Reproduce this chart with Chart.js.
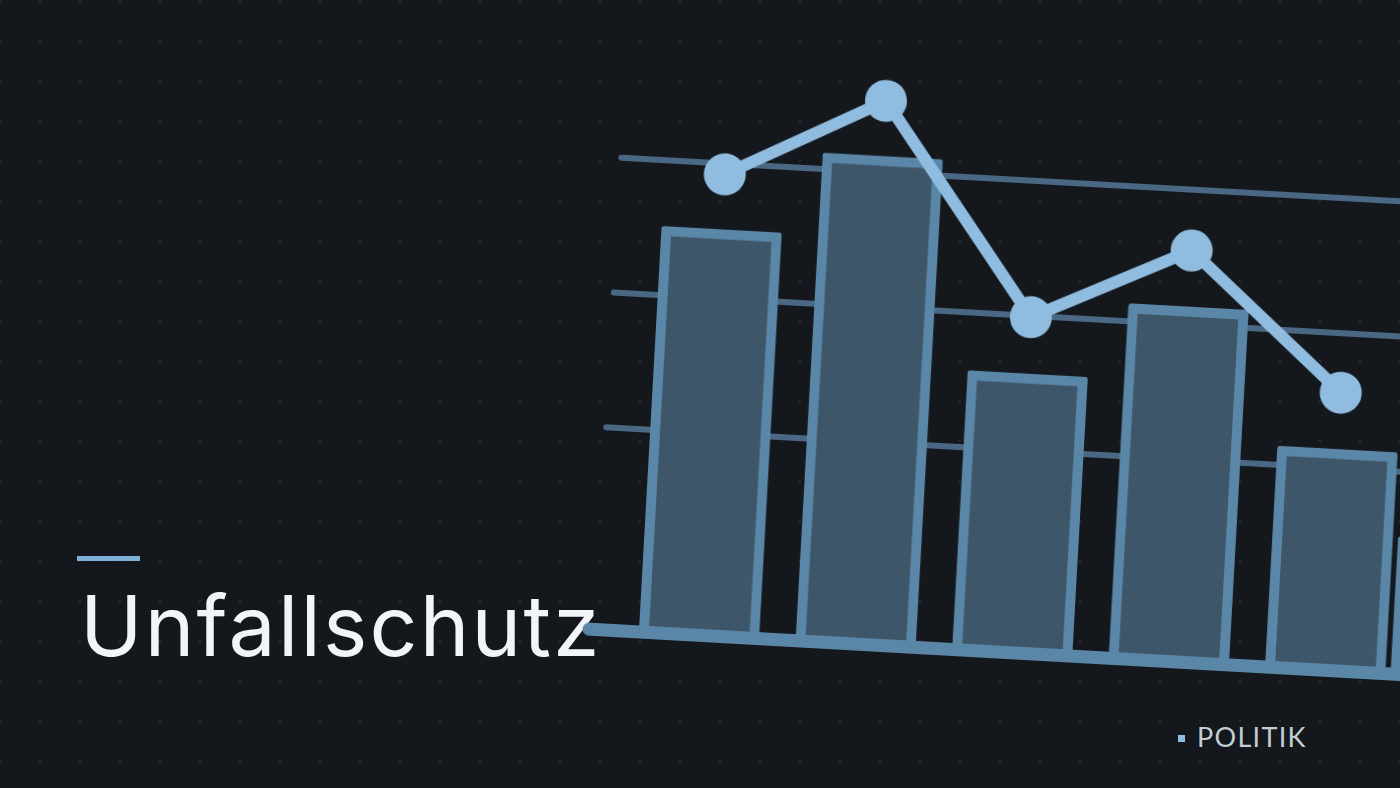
<!DOCTYPE html>
<html>
<head>
<meta charset="utf-8">
<script src="https://cdn.jsdelivr.net/npm/chart.js@4"></script>
<style>
    html, body {
        margin: 0;
        width: 1400px;
        height: 788px;
        overflow: hidden;
        background-color: #14181c;
        background-image: radial-gradient(circle, #252b31 1.2px, transparent 1.6px);
        background-size: 40px 40px;
        background-position: 20px 21px;
        font-family: 'Inter', 'Lato', sans-serif;
    }
    #tilt {
        position: absolute;
        left: 595px;
        top: 628.5px;
        width: 0;
        height: 0;
        transform: rotate(3.2deg); /* das ganze Diagramm liegt leicht schief */
        transform-origin: 0 0;
    }
    #chartBox {
        position: absolute;
        left: -30px;
        top: -647.5px;
        width: 1040px;
        height: 677.5px;
    }
    .accent {
        position: absolute;
        left: 77px;
        top: 556px;
        width: 63px;
        height: 5px;
        background: #7fb0d8;
    }
    h1 {
        position: absolute;
        left: 80px;
        top: 576px;
        margin: 0;
        font-size: 84px;
        font-weight: 400;
        letter-spacing: 2.2px;
        line-height: 100px;
        color: #f1f5f9;
    }
    .tag {
        position: absolute;
        left: 1178px;
        top: 722px;
        font-family: 'Lato', sans-serif;
        font-size: 27px;
        letter-spacing: 1.3px;
        color: #c3cdd6;
        line-height: 30px;
    }
    .tag span {
        display: inline-block;
        width: 7px;
        height: 7px;
        background: #8fbcdf;
        margin-right: 12px;
        vertical-align: middle;
        position: relative;
        top: -2px;
    }
</style>
</head>
<body>
<div class="accent"></div>
<h1>Unfallschutz</h1>
<div class="tag"><span></span>POLITIK</div>

<div id="tilt">
    <div id="chartBox"><canvas id="myChart"></canvas></div>
</div>

<script>
// Werte (willkuerliche Einheiten)
const barX = [1, 2, 3, 4, 5, 5.8];           // letzter Balken ragt nur am Rand ins Bild
const barValues = [301, 362, 207, 263, 164, 102];
const lineX = [1, 2, 3, 4, 5];
const lineValues = [342, 403, 249, 305, 206];
const gridValues = [150, 250, 350];

window.addEventListener('DOMContentLoaded', () => {

    const roundCaps = {
        id: 'roundCaps',
        beforeDraw(chart) {
            chart.ctx.lineCap = 'round'; // Gitterlinien + Grundlinie mit runden Enden
        }
    };

    const data = {
        datasets: [{
            type: 'line',
            data: lineX.map((x, i) => ({ x: x, y: lineValues[i] })),
            borderColor: '#8fbcdf',
            backgroundColor: '#8fbcdf',
            borderWidth: 12,
            borderCapStyle: 'round',
            borderJoinStyle: 'round',
            pointRadius: 21,
            pointHoverRadius: 21,
            pointBorderWidth: 0,
            pointBackgroundColor: '#8fbcdf',
            tension: 0,
            clip: false,
            order: 0,
        }, {
            type: 'bar',
            data: barX.map((x, i) => ({ x: x, y: barValues[i] })),
            backgroundColor: '#3e5669',
            borderColor: '#5a87a8',
            borderWidth: 10,
            borderRadius: 3,
            borderSkipped: 'start',
            barThickness: 120,
            order: 1,
        }],
    };

    const config = {
        type: 'bar',
        data: data,
        options: {
            responsive: true,
            maintainAspectRatio: false,
            animation: false,
            events: [],
            layout: {
                padding: { left: 30, right: 10, top: 40, bottom: 30 },
            },
            plugins: {
                legend: false,
                tooltip: false,
            },
            scales: {
                x: {
                    type: 'linear',
                    offset: false,
                    min: 0.335,
                    max: 6.643,
                    grid: { display: false, drawTicks: false },
                    ticks: { display: false },
                    border: { display: true, color: '#5a87a8', width: 13, z: 1 },
                    afterFit(scale) { scale.height = 0; },
                },
                y: {
                    min: 0,
                    max: 450,
                    grid: {
                        color: '#4a6883',
                        lineWidth: 6,
                        drawTicks: false,
                    },
                    border: { display: false },
                    ticks: { display: false },
                    afterBuildTicks(scale) {
                        scale.ticks = gridValues.map(v => ({ value: v }));
                    },
                    afterFit(scale) { scale.width = 0; },
                },
            },
        },
        plugins: [roundCaps],
    };

    const myChart = new Chart(
        document.getElementById('myChart'),
        config
    );

});
</script>
</body>
</html>
